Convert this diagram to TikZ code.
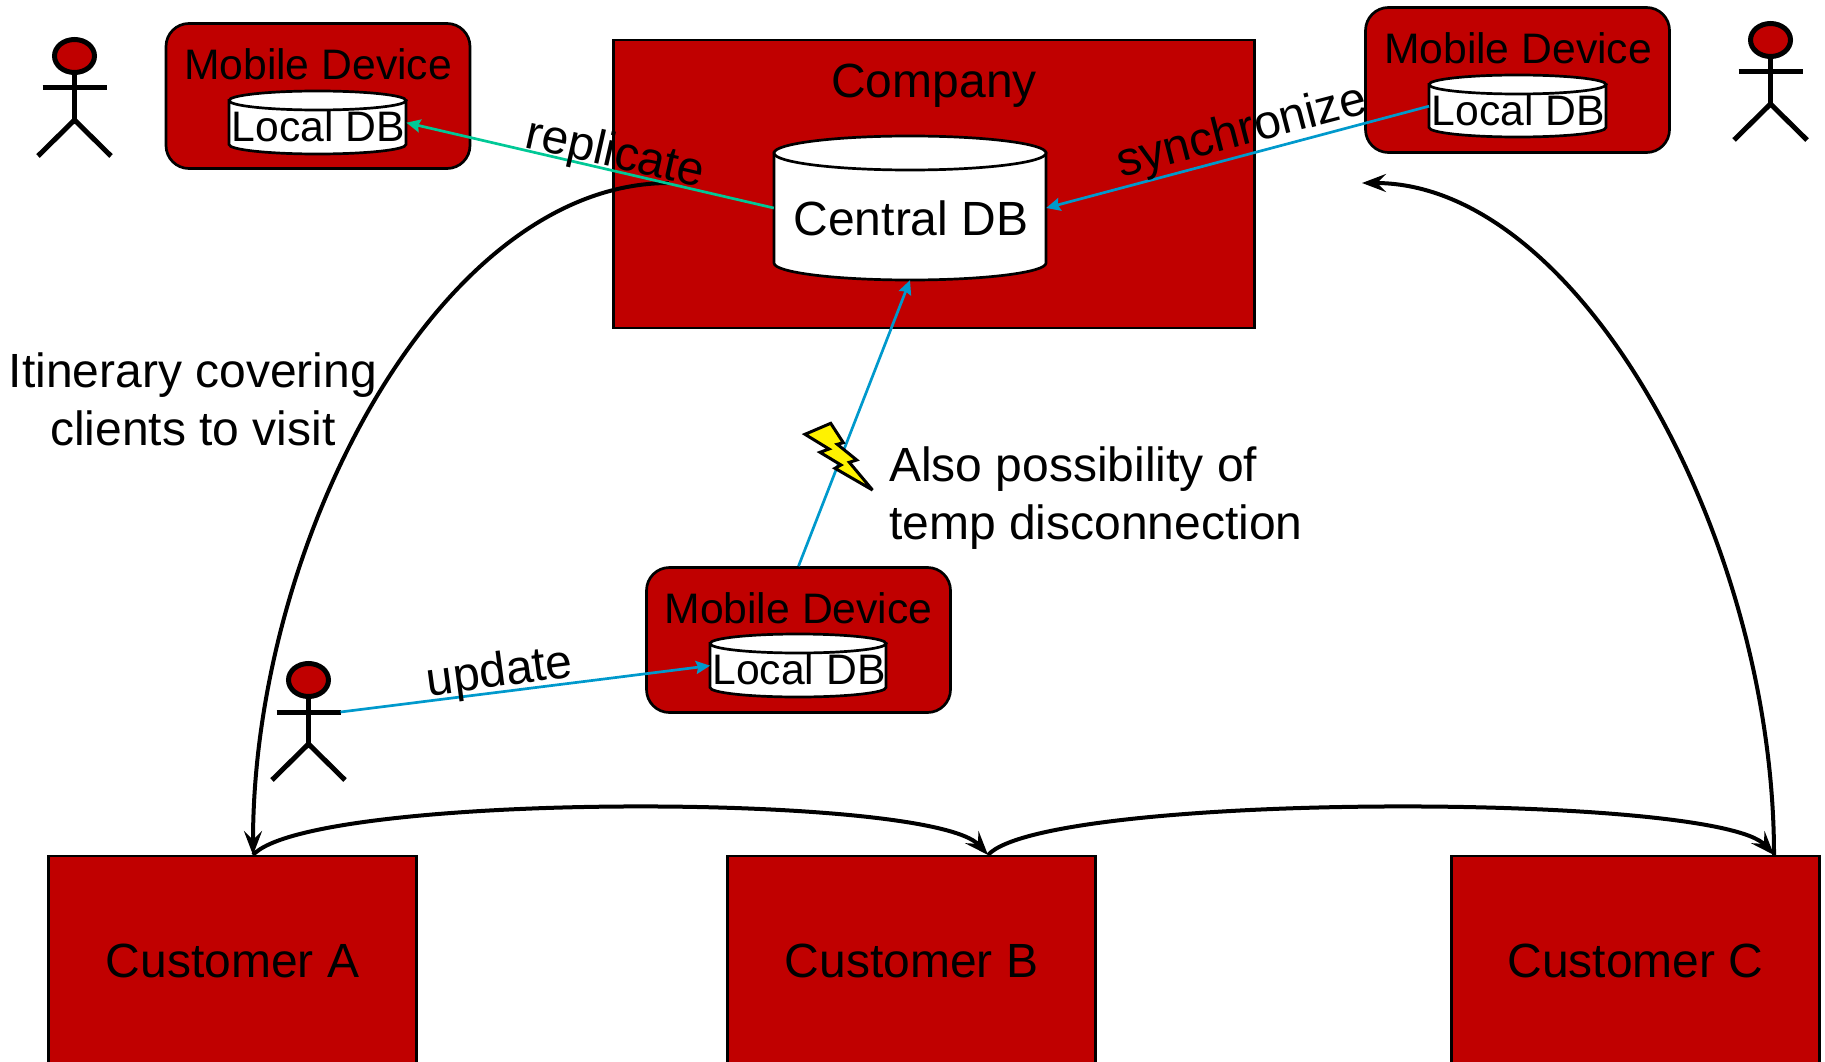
\documentclass[tikz,border=0pt]{standalone}
\usepackage{fontspec}
\setmainfont{Liberation Sans}
\usetikzlibrary{arrows.meta,shapes.geometric}
\definecolor{boxred}{HTML}{C00000}
\definecolor{linkblue}{HTML}{0099CC}
\definecolor{linkgreen}{HTML}{00C896}
\newcommand{\bigtxt}{\fontsize{48}{58}\selectfont}
\newcommand{\smalltxt}{\fontsize{42.67}{50}\selectfont}
\tikzset{
  x=1pt,y=-1pt,
  redbox/.style={draw=black,fill=boxred,line width=2.7pt,rectangle,inner sep=0pt},
  devicebox/.style={redbox,rounded corners=23pt,minimum width=304pt,minimum height=145pt},
  customerbox/.style={redbox,minimum width=368pt,minimum height=210pt,font=\bigtxt},
  dbtext/.style={inner sep=0pt,rectangle},
  cylline/.style={draw=black,fill=white,line width=2.7pt},
  txt/.style={inner sep=0pt,font=\bigtxt,text=black},
  smalltext/.style={inner sep=0pt,font=\smalltxt,text=black},
  stick/.style={line width=5pt,draw=black},
  headshape/.style={ellipse,draw=black,fill=boxred,line width=5pt,minimum width=40pt,minimum height=33pt,inner sep=0pt},
  bluelink/.style={draw=linkblue,line width=2.7pt,-{Stealth[length=14pt,width=13pt,inset=2pt]}},
  greenlink/.style={draw=linkgreen,line width=2.7pt,-{Stealth[length=14pt,width=13pt,inset=2pt]}},
  route/.style={draw=black,line width=4pt,-{Stealth[length=24pt,width=18pt,inset=9pt]}},
  bolt/.style={draw=black,fill=yellow,line width=3pt,line join=miter,miter limit=3}
}
% \dbcyl{name}{left}{top}{right}{bottom}{ry}{baseline offset}{style}
\newcommand{\dbcyl}[8]{
  \draw[cylline] (#2,#3+#6) -- (#2,#5-#6) arc[start angle=180,end angle=0,x radius={(#4-#2)/2},y radius=#6]
     -- (#4,#3+#6) -- cycle;
  \draw[cylline] (#2,#3+#6) arc[start angle=180,end angle=540,x radius={(#4-#2)/2},y radius=#6];
  \node[dbtext,minimum width={(#4-#2)*1pt},minimum height={(#5-#3)*1pt},anchor=north west] (#1) at (#2,#3) {};
  \node[#8,anchor=base] (#1-label) at ({(#2+#4)/2+1},{#3+#7}) {Local DB};
}
\newcommand{\actorfig}[3]{
  \begin{scope}[shift={(#2,#3)}]
    \draw[stick] (0,16) -- (0,64);
    \draw[stick] (-32,32) -- (32,32);
    \draw[stick,line join=miter] (-36.5,100) -- (0,64) -- (36.5,100);
    \node[headshape] (#1-head) at (0,0) {};
    \coordinate (#1-arm) at (32,32);
  \end{scope}
}
\begin{document}
\begin{tikzpicture}
\useasboundingbox (0,0) rectangle (1825,1062);
% company
\node[redbox,minimum width=641pt,minimum height=288pt] (company) at (934,184) {};
\node[txt] (companylabel) at (934,86) {Company};
\draw[cylline] (774,153) -- (774,263) arc[start angle=180,end angle=0,x radius=136,y radius=17] -- (1046,153) -- cycle;
\draw[cylline] (774,153) arc[start angle=180,end angle=540,x radius=136,y radius=17];
\node[dbtext,minimum width=272pt,minimum height=144pt,font=\bigtxt] (central) at (910,208) {};
\node[txt,anchor=base] (centrallabel) at (911,235) {Central DB};
% devices
\node[devicebox] (dev1) at (318,96) {};
\node[smalltext] (dev1label) at (318,64) {Mobile Device};
\dbcyl{ldb1}{229}{91}{406}{154}{9.5}{51}{smalltext}
\node[devicebox] (dev2) at (1517.5,80) {};
\node[smalltext] (dev2label) at (1518,48) {Mobile Device};
\dbcyl{ldb2}{1429}{75}{1606}{137}{9.5}{51}{smalltext}
\node[devicebox] (dev3) at (798.5,640) {};
\node[smalltext] (dev3label) at (798.5,608) {Mobile Device};
\dbcyl{ldb3}{710}{634}{886}{697}{9.5}{50.5}{smalltext}
% actors
\actorfig{act1}{74.5}{56}
\actorfig{act2}{1770.5}{40}
\actorfig{act3}{308.5}{680}
% customers
\node[customerbox] (custA) at (232.5,961) {Customer A};
\node[customerbox] (custB) at (911.5,961) {Customer B};
\node[customerbox] (custC) at (1635.5,961) {Customer C};
% route points
\coordinate (routeA) at (253,855);
\coordinate (routeB) at (988,855);
\coordinate (routeC) at (1774,855);
\coordinate (routeStart) at (669,183);
\coordinate (routeEnd) at (1362,183);
\draw[route] (routeStart) .. controls (440,183) and (253,540) .. (routeA);
\draw[route] (routeC) .. controls (1774,540) and (1580,183) .. (routeEnd);
\draw[route] (routeA) .. controls (310,792) and (931,792) .. (routeB);
\draw[route] (routeB) .. controls (1045,792) and (1717,792) .. (routeC);
% links
\draw[greenlink] (central.west) -- (ldb1.east);
\draw[bluelink] (ldb2.west) -- (central.east);
\draw[bluelink] (dev3.north) -- (central.south);
\draw[bluelink] (act3-arm) -- (ldb3.west);
% labels
\node[txt,rotate=-12.8] (replicate) at (615,155) {replicate};
\node[txt,rotate=14.6] (synchronize) at (1242,133) {synchronize};
\node[txt,rotate=7.6] (update) at (500,674) {update};
\node[txt,align=center] (itinerary) at (193,399) {Itinerary covering\\clients to visit};
\node[txt,align=left,anchor=west] (temp) at (889,498) {Also possibility of\\temp disconnection};
% lightning
\draw[bolt] (805,434.3) -- (830.7,423.3) -- (843.3,442.7) -- (837.3,444.3) -- (856.7,460) -- (849.3,462.3) -- (872.5,490) -- (835,468.3) -- (841,465) -- (820,452.3) -- (829,449) -- cycle;
\end{tikzpicture}
\end{document}
